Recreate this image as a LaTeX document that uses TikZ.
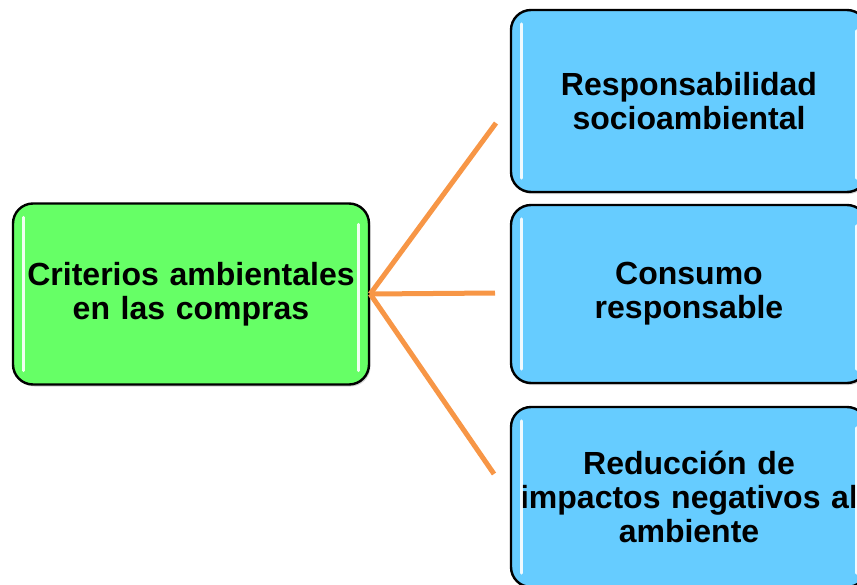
\documentclass[tikz,border=0pt]{standalone}
\usepackage{fontspec}
\setmainfont{Liberation Sans}
\usetikzlibrary{shadows}
\definecolor{gfill}{HTML}{66FF66}
\definecolor{bfill}{HTML}{66CCFF}
\definecolor{conn}{HTML}{F79646}
\begin{document}
\begin{tikzpicture}[x=1pt,y=-1pt,
  boxstyle/.style={draw=black, line width=2.4pt, rounded corners=20pt,
    minimum width=356pt, text width=345pt, align=center, inner sep=0pt,
    font=\fontsize{32}{34}\selectfont\bfseries,
    drop shadow={shadow xshift=1.5pt, shadow yshift=-2pt, opacity=0.35}},
  greenbox/.style={boxstyle, fill=gfill},
  bluebox/.style={boxstyle, fill=bfill},
  gloss/.style={draw=white, line width=3pt, line cap=round, opacity=0.9},
  link/.style={draw=conn, line width=5pt}]
\useasboundingbox (0,0) rectangle (857,584);
\clip (0,0) rectangle (857,584);
\node[greenbox, minimum height=181pt] (g) at (191,294) {Criterios ambientales\\en las compras};
\node[bluebox, minimum height=182pt] (b1) at (689,101) {Responsabilidad\\socioambiental};
\node[bluebox, minimum height=178pt] (b2) at (689,294) {Consumo\\responsable};
\node[bluebox, minimum height=180pt] (b3) at (689,497) {Reducción de\\impactos negativos al\\ambiente};
\foreach \n in {g,b1,b2,b3}{
  \draw[gloss] ([xshift=12pt,yshift=-15pt]\n.north west) -- ([xshift=12pt,yshift=15pt]\n.south west);
  \draw[gloss] ([xshift=-12pt,yshift=-22pt]\n.north east) -- ([xshift=-12pt,yshift=15pt]\n.south east);
}
\coordinate (e1) at (496,123);
\coordinate (e2) at (495,293);
\coordinate (e3) at (494,474);
\draw[link] (g.east) -- (e1);
\draw[link] (g.east) -- (e2);
\draw[link] (g.east) -- (e3);
\end{tikzpicture}
\end{document}
